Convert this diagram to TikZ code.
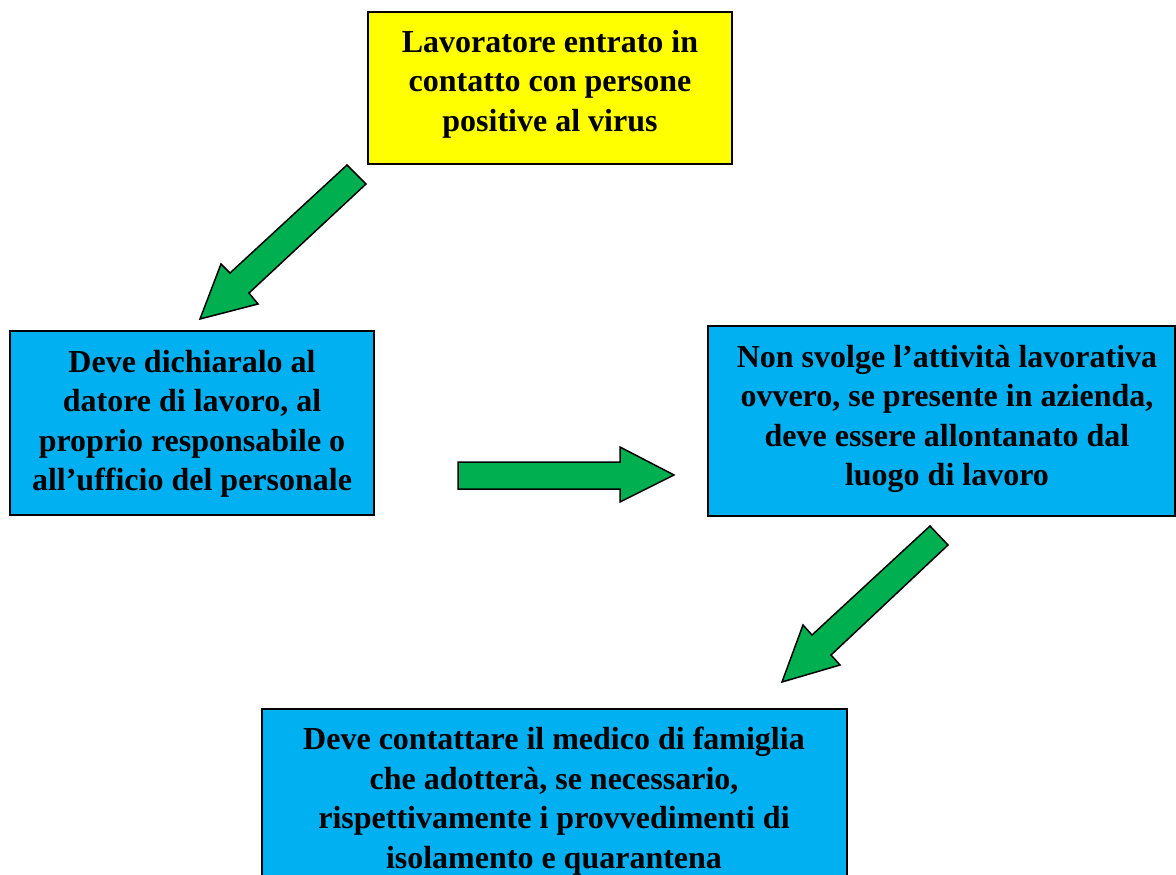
\documentclass[tikz,border=0pt]{standalone}
\usepackage{fontspec}
\setmainfont{Liberation Serif}
\definecolor{boxyellow}{HTML}{FFFF00}
\definecolor{boxblue}{HTML}{00B0F0}
\definecolor{arrowgreen}{HTML}{00B050}
\tikzset{
  boxrect/.style={draw=black, line width=2pt},
  boxtext/.style={anchor=north, inner sep=0pt, align=center, font=\fontsize{32}{39.5}\selectfont\bfseries},
  blockarrow/.style={draw=black, fill=arrowgreen, line width=1.5pt, line join=miter},
}
\begin{document}
\begin{tikzpicture}[x=1pt, y=-1pt]
\useasboundingbox (0,0) rectangle (1176,875);
\clip (0,0) rectangle (1176,875);
% boxes
\path[boxrect, fill=boxyellow] (368,12) rectangle (732,164) coordinate (b0);
\node[boxtext] (t0) at (550,30) {Lavoratore entrato in\\contatto con persone\\positive al virus};
\path[boxrect, fill=boxblue] (10,331) rectangle (374,515);
\node[boxtext] (t1) at (192,349.7) {Deve dichiaralo al\\datore di lavoro, al\\proprio responsabile o\\all’ufficio del personale};
\path[boxrect, fill=boxblue] (708,326) rectangle (1175,516);
\node[boxtext] (t2) at (947,344.7) {Non svolge l’attività lavorativa\\ovvero, se presente in azienda,\\deve essere allontanato dal\\luogo di lavoro};
\path[boxrect, fill=boxblue] (262,709) rectangle (847,900);
\node[boxtext] (t3) at (554,727) {Deve contattare il medico di famiglia\\che adotterà, se necessario,\\rispettivamente i provvedimenti di\\isolamento e quarantena};
% arrows
\coordinate (a1tail) at (356.5,174.5);
\coordinate (a1tip) at (200,319);
\draw[blockarrow] (347,165) -- (366,184) -- (249,293) -- (258,304) -- (a1tip) -- (221,264) -- (230,273) -- cycle;
\coordinate (a2tip) at (674,475);
\draw[blockarrow] (458,462) -- (620,462) -- (620,447) -- (a2tip) -- (620,502) -- (620,489) -- (458,489) -- cycle;
\coordinate (a3tip) at (782,682);
\draw[blockarrow] (930,526) -- (948,545) -- (831,655) -- (840,665) -- (a3tip) -- (803,625) -- (812,635) -- cycle;
\end{tikzpicture}
\end{document}
